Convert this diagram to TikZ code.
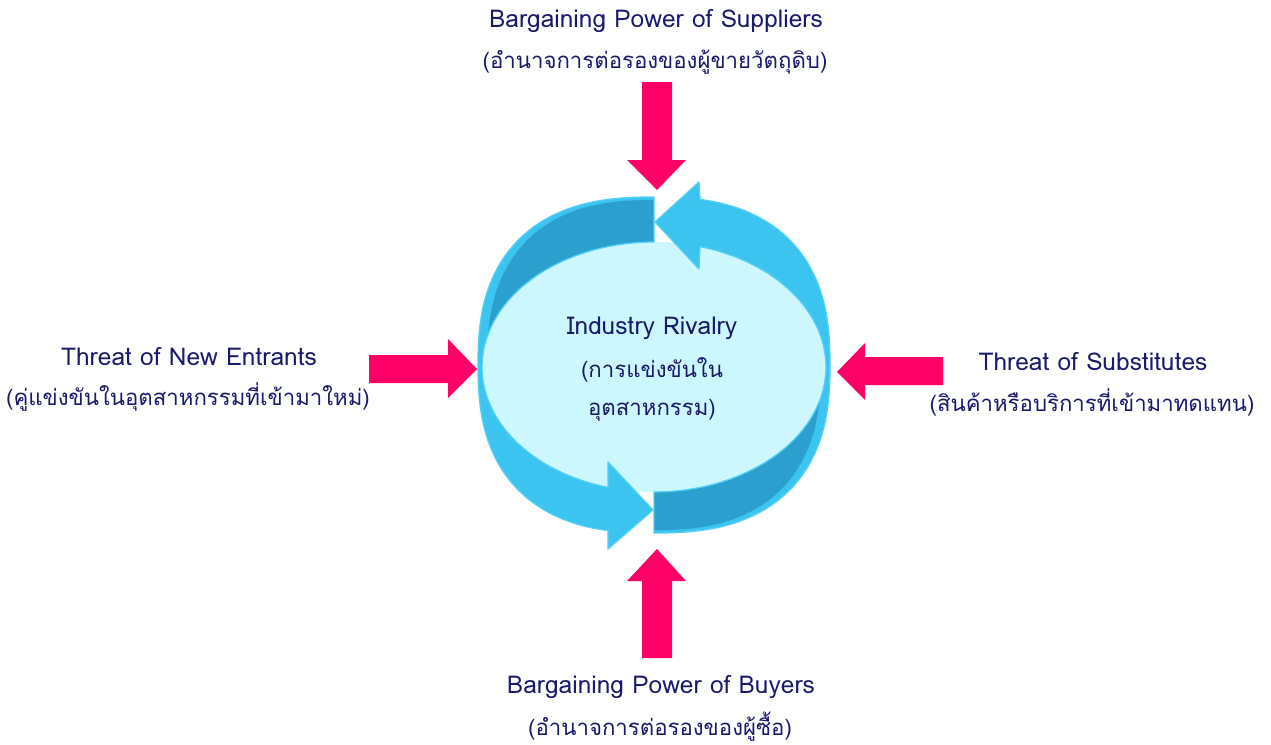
\documentclass[tikz,border=0pt]{standalone}
\usepackage{fontspec}
\newfontfamily\thaifont[Script=Thai]{Loma}
\definecolor{pinkarrow}{HTML}{FF0066}
\definecolor{blueL}{HTML}{3CC4F0}
\definecolor{blueD}{HTML}{2B9FCE}
\definecolor{rimc}{HTML}{52D0F8}
\definecolor{centerc}{HTML}{CCF7FF}
\definecolor{navy}{HTML}{1A1A6B}
% superellipse (outer edge) and mid edge
\def\sxo#1{654+176*cos(#1)/(abs(cos(#1))+0.00001)^0.2}
\def\syo#1{365-168*sin(#1)/(abs(sin(#1))+0.00001)^0.2}
\def\sxm#1{654+167*cos(#1)/(abs(cos(#1))+0.00001)^0.2}
\def\sym#1{365-165*sin(#1)/(abs(sin(#1))+0.00001)^0.2}
\def\LA{plot[domain=90:259.2,samples=80] ({\sxo{\x}},{\syo{\x}}) -- (608,549) -- (653,510) -- (608,462) -- plot[domain=254.5:90,samples=80] ({654+172*cos(\x)},{367-125*sin(\x)}) -- cycle}
\def\RA{plot[domain=270:439.2,samples=80] ({\sxo{\x}},{\syo{\x}}) -- (699,182) -- (655,222) -- (699,269) -- plot[domain=434.5:270,samples=80] ({654+172*cos(\x)},{367-125*sin(\x)}) -- cycle}
\tikzset{
  lbl/.style={text=navy, font=\thaifont\fontsize{24.5}{28}\selectfont, inner sep=0pt, anchor=center},
  tlbl/.style={text=navy, font=\thaifont\fontsize{22.2}{26}\selectfont, inner sep=0pt, anchor=center},
  blockarrow/.style={fill=pinkarrow, draw=none},
}
\begin{document}
\begin{tikzpicture}[x=1pt,y=-1pt]
\useasboundingbox[fill=white] (0,0) rectangle (1271,744);
% centre
\fill[centerc] (654,367) ellipse [x radius=172, y radius=125];
% circular arrows
\fill[blueL] \LA;
\fill[blueL] \RA;
\begin{scope}
  \clip \LA;
  \fill[blueD] (654,365) -- plot[domain=90:180,samples=60] ({\sxm{\x}},{\sym{\x}}) -- cycle;
\end{scope}
\begin{scope}
  \clip \RA;
  \fill[blueD] (654,365) -- plot[domain=270:360,samples=60] ({\sxm{\x}},{\sym{\x}}) -- cycle;
\end{scope}
\draw[rimc, line width=1.3pt, line join=round] \LA;
\draw[rimc, line width=1.3pt, line join=round] \RA;
% pink block arrows
\fill[blockarrow] (642,82) -- (672,82) -- (672,160) -- (686,160) -- (657,190) -- (627,160) -- (642,160) -- cycle;
\fill[blockarrow] (369,355) -- (448,355) -- (448,339) -- (477,369) -- (448,398) -- (448,383) -- (369,383) -- cycle;
\fill[blockarrow] (943,357) -- (865,357) -- (865,343) -- (837,372) -- (865,400) -- (865,385) -- (943,385) -- cycle;
\fill[blockarrow] (642,658) -- (672,658) -- (672,581) -- (686,581) -- (657,549) -- (627,581) -- (642,581) -- cycle;
% labels
\node[lbl] (supE) at (656,21) {Bargaining Power of Suppliers};
\node[tlbl] (supT) at (655,62) {(อำนาจการต่อรองของผู้ขายวัตถุดิบ)};
\node[lbl] (newE) at (189,356) {Threat of New Entrants};
\node[tlbl] (newT) at (188,397) {(คู่แข่งขันในอุตสาหกรรมที่เข้ามาใหม่)};
\node[lbl] (subE) at (1093,361) {Threat of Substitutes};
\node[tlbl] (subT) at (1092,402) {(สินค้าหรือบริการที่เข้ามาทดแทน)};
\node[lbl] (buyE) at (661,687) {Bargaining Power of Buyers};
\node[tlbl] (buyT) at (660,727) {(อำนาจการต่อรองของผู้ซื้อ)};
\node[lbl] (rivE) at (652,328) {Industry Rivalry};
\node[tlbl] (rivT1) at (652,370) {(การแข่งขันใน};
\node[tlbl] (rivT2) at (652,410) {อุตสาหกรรม)};
\end{tikzpicture}
\end{document}
